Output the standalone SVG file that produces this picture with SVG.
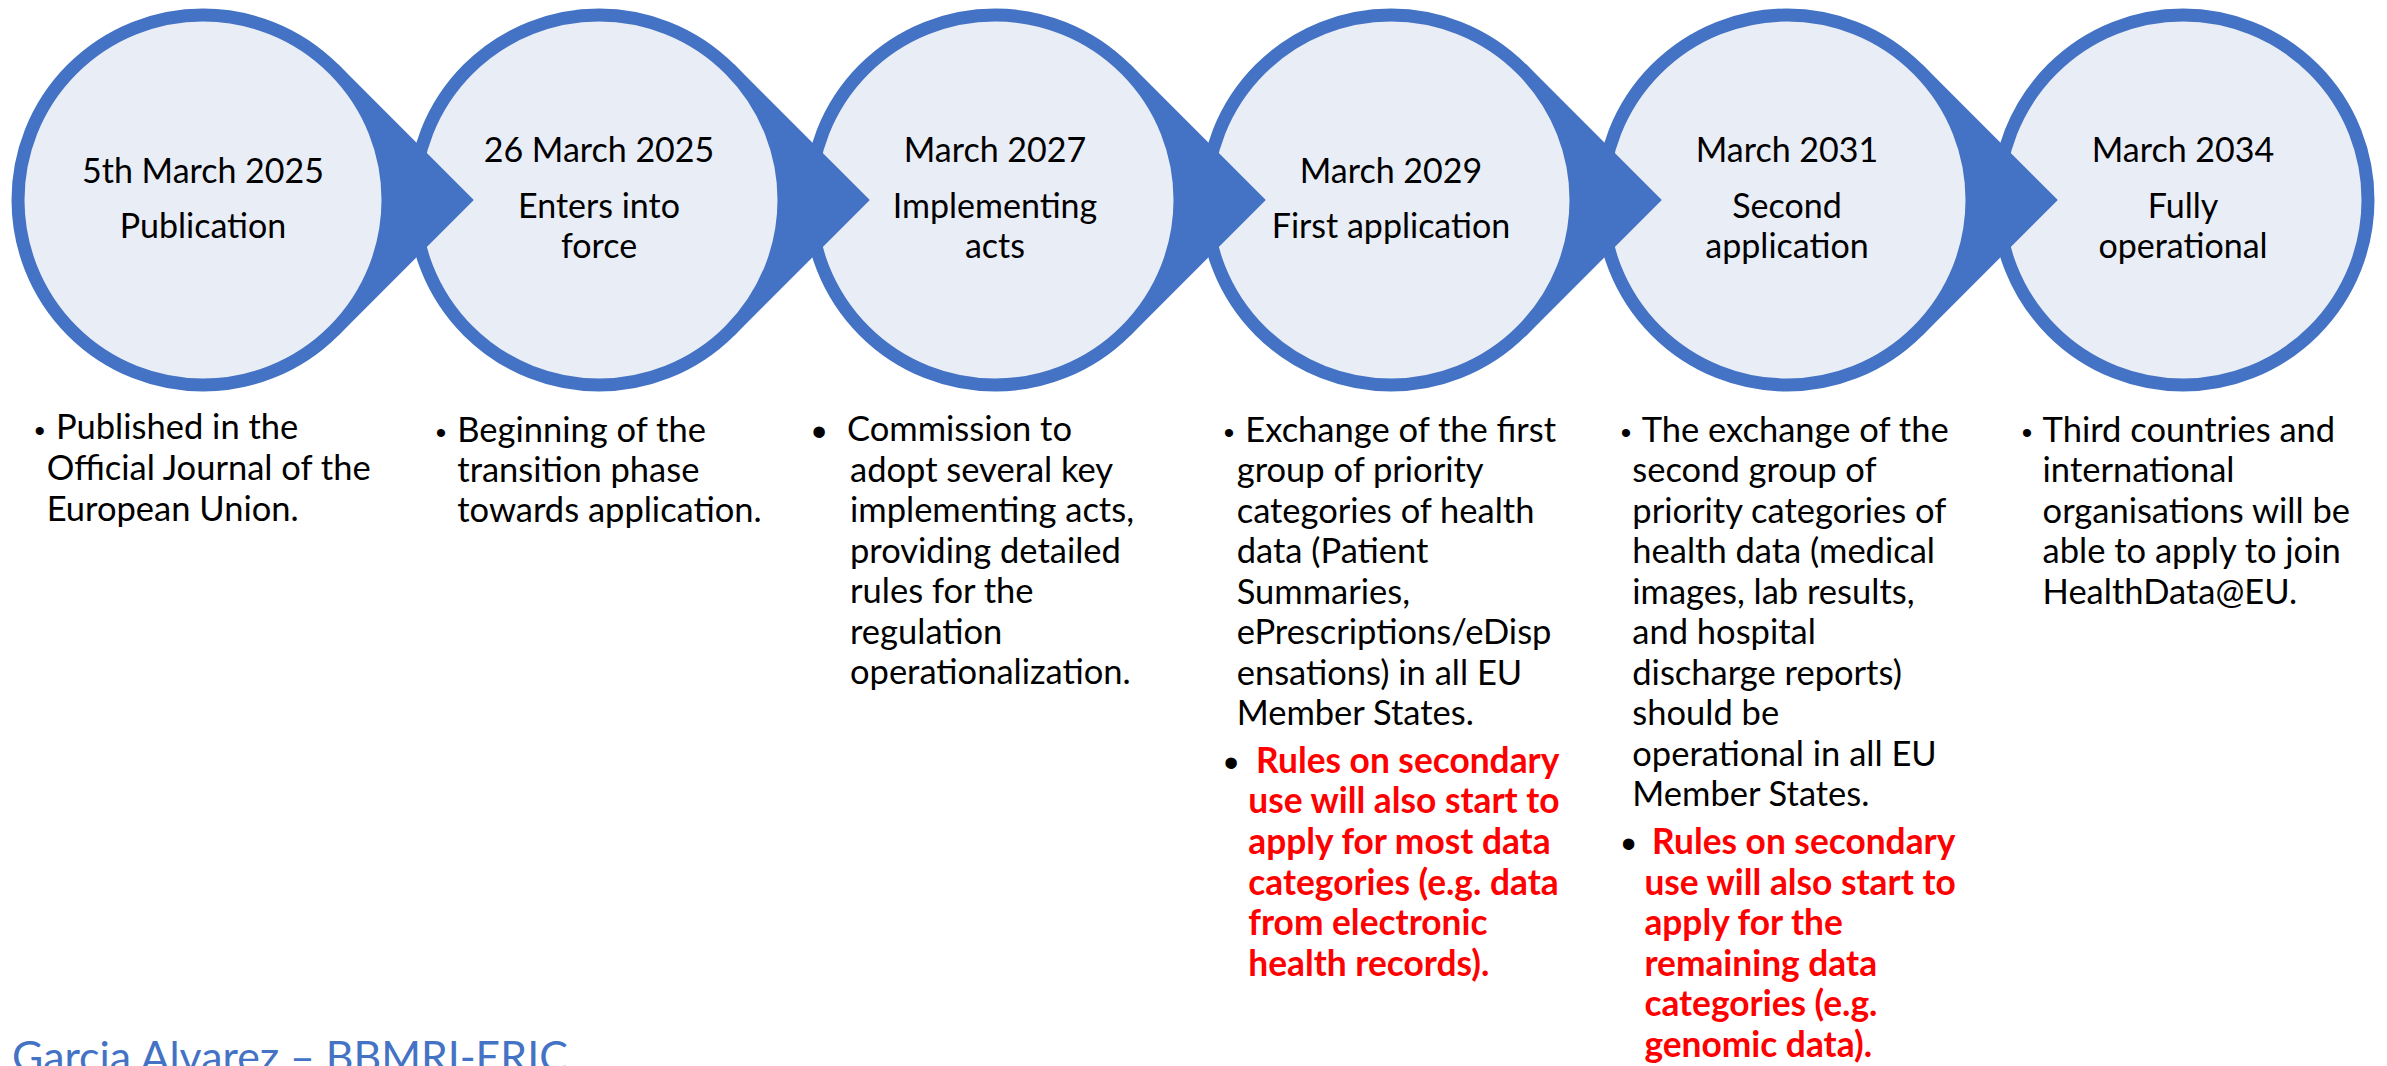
<svg xmlns="http://www.w3.org/2000/svg" width="2387" height="1066" viewBox="0 0 2387 1066">
  <style>
    .ring { fill: #E9EDF6; stroke: #4472C4; stroke-width: 13; }
    .arrow { fill: #4472C4; }
    .title { font-family: Lato, "Liberation Sans", sans-serif; font-size: 34px; fill: #000; text-anchor: middle; }
    .body { font-family: Lato, "Liberation Sans", sans-serif; font-size: 34.5px; fill: #000; }
    .red { font-family: Lato, "Liberation Sans", sans-serif; font-size: 35.3px; font-weight: bold; fill: #FF0000; }
    .dot { font-family: "Liberation Sans", sans-serif; font-size: 30px; fill: #000; text-anchor: middle; }
    .dot-lg { font-family: "Liberation Sans", sans-serif; font-size: 42px; fill: #000; text-anchor: middle; }
    .credit { font-family: Lato, "Liberation Sans", sans-serif; font-size: 42.8px; fill: #4472C4; }
  </style>
  <rect width="2387" height="1066" fill="#FFFFFF"/>

  <!-- timeline nodes -->
  <g id="node-publication">
    <circle class="ring" cx="203" cy="200" r="185"/>
    <text class="title" x="203" y="182.7">5th March 2025</text>
    <text class="title" x="203" y="238.3">Publication</text>
    <text class="dot" x="39.7" y="441">•</text>
    <text class="body">
      <tspan x="56" y="439.3">Published in the</tspan>
      <tspan x="46.7" y="480">Official Journal of the</tspan>
      <tspan x="46.7" y="520.5">European Union.</tspan>
    </text>
  </g>

  <g id="node-entry-into-force">
    <circle class="ring" cx="599" cy="200" r="185"/>
    <text class="title" x="599" y="161.7">26 March 2025</text>
    <text class="title" x="599" y="218.3">Enters into</text>
    <text class="title" x="599" y="258.3">force</text>
    <text class="dot" x="441" y="443">•</text>
    <text class="body">
      <tspan x="457.3" y="441.7">Beginning of the</tspan>
      <tspan x="457.3" y="481.7">transition phase</tspan>
      <tspan x="457.3" y="521.7">towards application.</tspan>
    </text>
  </g>

  <g id="node-implementing-acts">
    <circle class="ring" cx="995" cy="200" r="185"/>
    <text class="title" x="995" y="161.7">March 2027</text>
    <text class="title" x="995" y="218.3">Implementing</text>
    <text class="title" x="995" y="258.3">acts</text>
    <text class="dot-lg" x="819" y="446">•</text>
    <text class="body">
      <tspan x="847" y="441">Commission to</tspan>
      <tspan x="850" y="481.5">adopt several key</tspan>
      <tspan x="850" y="522">implementing acts,</tspan>
      <tspan x="850" y="562.5">providing detailed</tspan>
      <tspan x="850" y="603">rules for the</tspan>
      <tspan x="850" y="643.5">regulation</tspan>
      <tspan x="850" y="684">operationalization.</tspan>
    </text>
  </g>

  <g id="node-first-application">
    <circle class="ring" cx="1391" cy="200" r="185"/>
    <text class="title" x="1391" y="182.7">March 2029</text>
    <text class="title" x="1391" y="238.3">First application</text>
    <text class="dot" x="1229" y="443">•</text>
    <text class="body">
      <tspan x="1245.3" y="441.5">Exchange of the first</tspan>
      <tspan x="1236.7" y="482">group of priority</tspan>
      <tspan x="1236.7" y="522.5">categories of health</tspan>
      <tspan x="1236.7" y="563">data (Patient</tspan>
      <tspan x="1236.7" y="603.5">Summaries,</tspan>
      <tspan x="1236.7" y="644">ePrescriptions/eDisp</tspan>
      <tspan x="1236.7" y="684.5">ensations) in all EU</tspan>
      <tspan x="1236.7" y="725">Member States.</tspan>
    </text>
    <text class="dot-lg" x="1231" y="777">•</text>
    <text class="red">
      <tspan x="1256" y="772.7">Rules on secondary</tspan>
      <tspan x="1248.3" y="813.3">use will also start to</tspan>
      <tspan x="1248.3" y="853.9">apply for most data</tspan>
      <tspan x="1248.3" y="894.5">categories (e.g. data</tspan>
      <tspan x="1248.3" y="935.1">from electronic</tspan>
      <tspan x="1248.3" y="975.7">health records).</tspan>
    </text>
  </g>

  <g id="node-second-application">
    <circle class="ring" cx="1787" cy="200" r="185"/>
    <text class="title" x="1787" y="161.7">March 2031</text>
    <text class="title" x="1787" y="218.3">Second</text>
    <text class="title" x="1787" y="258.3">application</text>
    <text class="dot" x="1626" y="443">•</text>
    <text class="body">
      <tspan x="1641.7" y="441.5">The exchange of the</tspan>
      <tspan x="1632.3" y="482">second group of</tspan>
      <tspan x="1632.3" y="522.5">priority categories of</tspan>
      <tspan x="1632.3" y="563">health data (medical</tspan>
      <tspan x="1632.3" y="603.5">images, lab results,</tspan>
      <tspan x="1632.3" y="644">and hospital</tspan>
      <tspan x="1632.3" y="684.5">discharge reports)</tspan>
      <tspan x="1632.3" y="725">should be</tspan>
      <tspan x="1632.3" y="765.5">operational in all EU</tspan>
      <tspan x="1632.3" y="806">Member States.</tspan>
    </text>
    <text class="dot-lg" x="1628.5" y="858">•</text>
    <text class="red">
      <tspan x="1652" y="854">Rules on secondary</tspan>
      <tspan x="1644.4" y="894.6">use will also start to</tspan>
      <tspan x="1644.4" y="935.2">apply for the</tspan>
      <tspan x="1644.4" y="975.8">remaining data</tspan>
      <tspan x="1644.4" y="1016.4">categories (e.g.</tspan>
      <tspan x="1644.4" y="1057">genomic data).</tspan>
    </text>
  </g>

  <g id="node-fully-operational">
    <circle class="ring" cx="2183" cy="200" r="185"/>
    <text class="title" x="2183" y="161.7">March 2034</text>
    <text class="title" x="2183" y="218.3">Fully</text>
    <text class="title" x="2183" y="258.3">operational</text>
    <text class="dot" x="2027" y="443">•</text>
    <text class="body">
      <tspan x="2042.6" y="441.5">Third countries and</tspan>
      <tspan x="2042.6" y="482">international</tspan>
      <tspan x="2042.6" y="522.5">organisations will be</tspan>
      <tspan x="2042.6" y="563">able to apply to join</tspan>
      <tspan x="2042.6" y="603.5">HealthData@EU.</tspan>
    </text>
  </g>

  <!-- pointed tails linking each circle to the next -->
  <g id="connectors">
    <path class="arrow" d="M338.4,64.6 L473.8,200 L338.4,335.4 L334.5,331.5 A186,186 0 0 0 334.5,68.5 Z"/>
    <path class="arrow" d="M734.4,64.6 L869.8,200 L734.4,335.4 L730.5,331.5 A186,186 0 0 0 730.5,68.5 Z"/>
    <path class="arrow" d="M1130.4,64.6 L1265.8,200 L1130.4,335.4 L1126.5,331.5 A186,186 0 0 0 1126.5,68.5 Z"/>
    <path class="arrow" d="M1526.4,64.6 L1661.8,200 L1526.4,335.4 L1522.5,331.5 A186,186 0 0 0 1522.5,68.5 Z"/>
    <path class="arrow" d="M1922.4,64.6 L2057.8,200 L1922.4,335.4 L1918.5,331.5 A186,186 0 0 0 1918.5,68.5 Z"/>
  </g>

  <text class="credit" x="12" y="1072">Garcia Alvarez – BBMRI-ERIC</text>
</svg>
